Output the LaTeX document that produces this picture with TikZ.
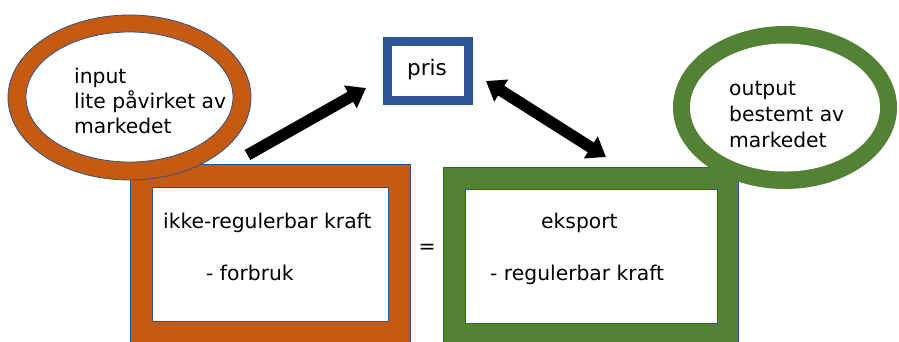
\documentclass[tikz,border=0pt]{standalone}
\usepackage{fontspec}
\setmainfont{DejaVu Sans}
\usetikzlibrary{shapes.geometric,arrows.meta}
\definecolor{orng}{HTML}{C55A11}
\definecolor{grn}{HTML}{548235}
\definecolor{pblue}{HTML}{2F5597}
\definecolor{edge}{HTML}{2F528F}
\tikzset{
  ringbox/.style={rectangle,draw=edge,line width=0.8pt,inner sep=0pt},
  ringell/.style={ellipse,inner sep=0pt},
  txt/.style={inner sep=0pt,anchor=base west,align=left,font=\fontsize{20.3}{25}\selectfont},
  bigarrow/.style={line width=11.5pt,draw=black,line cap=butt},
}
\begin{document}
\begin{tikzpicture}[x=1pt,y=-1pt]
\useasboundingbox[fill=white] (0,0) rectangle (899,341);
% left box
\node[ringbox,fill=orng,minimum width=280pt,minimum height=179pt] (lout) at (270,253.5) {};
\node[ringbox,fill=white,minimum width=236pt,minimum height=134pt] (lin) at (270,254) {};
% right box
\node[ringbox,fill=grn,minimum width=295pt,minimum height=178pt] (rout) at (590.5,256) {};
\node[ringbox,fill=white,minimum width=252pt,minimum height=134pt] (rin) at (591,256) {};
% ellipses
\node[ringell,fill=orng,draw=edge,line width=0.8pt,minimum width=243pt,minimum height=165pt] (lell) at (129.5,97.5) {};
\node[ringell,fill=white,draw=edge,line width=0.8pt,minimum width=207pt,minimum height=130pt] (lelli) at (129.5,97) {};
\node[ringell,fill=grn,minimum width=224pt,minimum height=163pt] (rell) at (785,107.5) {};
\node[ringell,fill=white,minimum width=190pt,minimum height=128pt] (relli) at (785,107.5) {};
% pris box
\node[rectangle,draw=pblue,line width=9pt,minimum width=81.5pt,minimum height=59pt,inner sep=0pt] (pris) at (428,71) {};
\node[txt,font=\fontsize{21.5}{26}\selectfont] (pristxt) at (407,75) {pris};
% texts (base anchor = baseline of last line)
\node[txt] (intxt) at (74,133) {input\\lite påvirket av\\markedet};
\node[txt,font=\fontsize{20.3}{26}\selectfont] (outtxt) at (729,147) {output\\bestemt av\\markedet};
\node[txt] (ikke) at (163,228) {ikke-regulerbar kraft};
\node[txt] (forb) at (206,280) {- forbruk};
\node[txt] (eksp) at (541,228) {eksport};
\node[txt] (regk) at (490,280) {- regulerbar kraft};
\node[txt,anchor=center] (eq) at (427,249) {=};
% arrows
\coordinate (a1s) at (247.5,155);
\coordinate (a1e) at (366,88);
\coordinate (a2s) at (486,81);
\coordinate (a2e) at (606,157);
\draw[bigarrow,-{Triangle[length=18pt,width=25pt]}] (a1s) -- (a1e);
\draw[bigarrow,{Triangle[length=18pt,width=25pt]}-{Triangle[length=18pt,width=25pt]}] (a2s) -- (a2e);
\end{tikzpicture}
\end{document}
